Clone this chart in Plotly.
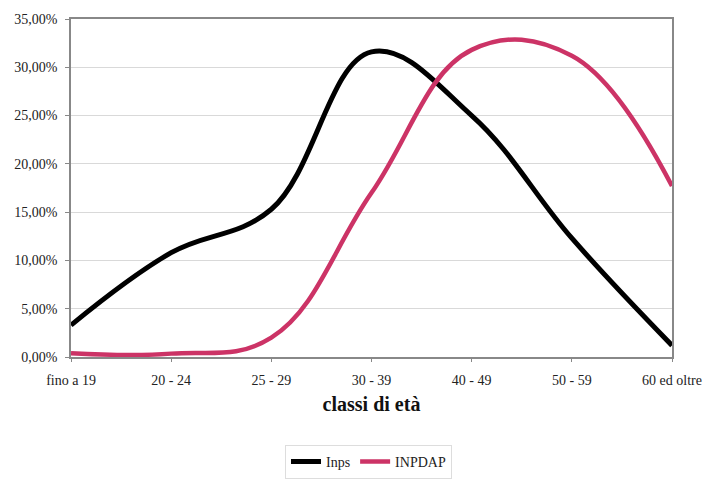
import plotly.graph_objects as go

# Age classes and share of workers per class (%)
classi = ["fino a 19", "20 - 24", "25 - 29", "30 - 39", "40 - 49", "50 - 59", "60 ed oltre"]
inps = [3.3, 10.8, 15.3, 31.6, 25.0, 12.3, 1.2]
inpdap = [0.4, 0.35, 2.0, 17.0, 31.8, 31.2, 17.7]

y_ticks = [0, 5, 10, 15, 20, 25, 30, 35]
y_tick_labels = ["0,00%", "5,00%", "10,00%", "15,00%", "20,00%", "25,00%", "30,00%", "35,00%"]

serif = "Liberation Serif, Times New Roman, serif"

fig = go.Figure()
fig.add_trace(go.Scatter(
    x=list(range(len(classi))), y=inps, name="Inps", mode="lines",
    line=dict(color="#000000", width=5, shape="spline", smoothing=1.1),
))
fig.add_trace(go.Scatter(
    x=list(range(len(classi))), y=inpdap, name="INPDAP", mode="lines",
    line=dict(color="#cc3366", width=4.5, shape="spline", smoothing=1.15),
))

fig.update_layout(
    width=714, height=491,
    margin=dict(l=71, r=33, t=15, b=120),
    paper_bgcolor="white", plot_bgcolor="white",
    font=dict(family=serif, size=14, color="#222222"),
    showlegend=True,
    legend=dict(
        orientation="h", x=0.495, xanchor="center", y=-0.31, yanchor="middle",
        bordercolor="#dddddd", borderwidth=1, font=dict(size=14, color="#222222"),
        itemwidth=30, tracegroupgap=0,
    ),
)

fig.update_xaxes(
    range=[0, len(classi) - 1],
    tickmode="array", tickvals=list(range(len(classi))), ticktext=classi,
    showgrid=False, showline=True, linecolor="#888888", linewidth=1.5, mirror=True,
    ticks="outside", ticklen=3, tickcolor="#888888",
    tickfont=dict(family=serif, size=14, color="#222222"),
    ticklabelstandoff=6,
    title=dict(text="<b>classi di età</b>", font=dict(family=serif, size=20, color="#111111"), standoff=10),
    zeroline=False,
)
fig.update_yaxes(
    range=[0, 35],
    tickmode="array", tickvals=y_ticks, ticktext=y_tick_labels,
    showgrid=True, gridcolor="#d9d9d9", gridwidth=1,
    showline=True, linecolor="#888888", linewidth=1.5, mirror=True,
    ticks="outside", ticklen=4, tickcolor="#888888",
    tickfont=dict(family=serif, size=14, color="#222222"),
    ticklabelstandoff=5,
    zeroline=False,
)

fig.write_html("out.html")
